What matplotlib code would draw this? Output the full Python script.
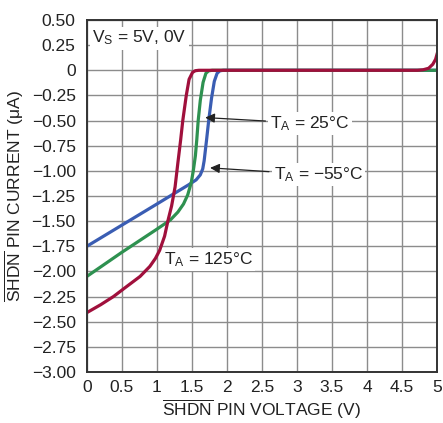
import matplotlib
matplotlib.use("Agg")
import matplotlib.pyplot as plt

plt.rcParams['font.family'] = ['Liberation Sans Narrow', 'Liberation Sans', 'DejaVu Sans']
plt.rcParams['mathtext.fontset'] = 'custom'
plt.rcParams['mathtext.rm'] = 'Liberation Sans'
plt.rcParams['mathtext.it'] = 'Liberation Sans'
plt.rcParams['axes.unicode_minus'] = True

# -55C curve (blue)
v_cold = [0, 0.5, 1.0, 1.26, 1.45, 1.56, 1.62, 1.655, 1.675, 1.69, 1.71, 1.74, 1.78, 1.82, 1.86, 1.9, 1.95, 5.0]
i_cold = [-1.75, -1.54, -1.33, -1.22, -1.14, -1.09, -1.04, -0.98, -0.9, -0.81, -0.69, -0.5, -0.28, -0.11, -0.03, -0.005, 0, 0]
# 25C curve (green)
v_room = [0, 0.5, 1.0, 1.19, 1.3, 1.38, 1.44, 1.49, 1.52, 1.55, 1.57, 1.59, 1.62, 1.66, 1.7, 1.74, 1.79, 5.0]
i_room = [-2.05, -1.81, -1.58, -1.49, -1.41, -1.33, -1.24, -1.12, -1.0, -0.85, -0.69, -0.5, -0.3, -0.12, -0.03, -0.005, 0, 0]
# 125C curve (red)
v_hot = [0, 0.2, 0.38, 0.55, 0.76, 0.9, 0.98, 1.04, 1.11, 1.16, 1.21, 1.26, 1.3, 1.34, 1.37, 1.42, 1.46, 1.51, 1.55, 1.6,
         4.72, 4.8, 4.88, 4.94, 4.98, 5.0]
i_hot = [-2.41, -2.33, -2.25, -2.16, -2.05, -1.95, -1.87, -1.79, -1.65, -1.49, -1.35, -1.16, -0.92, -0.69, -0.5, -0.25, -0.09, -0.02, -0.004, 0,
         0, 0.005, 0.02, 0.06, 0.11, 0.16]

xticks = [0, 0.5, 1, 1.5, 2, 2.5, 3, 3.5, 4, 4.5, 5]
xlabels = ['0', '0.5', '1', '1.5', '2', '2.5', '3', '3.5', '4', '4.5', '5']
yticks = [0.5, 0.25, 0, -0.25, -0.5, -0.75, -1.0, -1.25, -1.5, -1.75, -2.0, -2.25, -2.5, -2.75, -3.0]
ylabels = ['0.50', '0.25', '0', '−0.25', '−0.50', '−0.75', '−1.00', '−1.25',
           '−1.50', '−1.75', '−2.00', '−2.25', '−2.50', '−2.75', '−3.00']

fig = plt.figure(figsize=(4.43, 4.23), dpi=100)
ax = fig.add_axes([0.196, 0.1206, 0.7905, 0.8321])

ax.plot(v_cold, i_cold, color='#3a5db3', lw=2.3, solid_joinstyle='round')
ax.plot(v_room, i_room, color='#2e9150', lw=2.3, solid_joinstyle='round')
ax.plot(v_hot, i_hot, color='#a0103c', lw=2.3, solid_joinstyle='round')

ax.set_xlim(0, 5)
ax.set_ylim(-3.0, 0.5)
ax.set_xticks(xticks)
ax.set_xticklabels(xlabels)
ax.set_yticks(yticks)
ax.set_yticklabels(ylabels)
ax.tick_params(length=0, labelsize=12.5, colors='#222222')
ax.tick_params(axis='y', pad=8)
ax.tick_params(axis='x', pad=6)
ax.grid(True, color='#8c8c8c', lw=1.0)
ax.set_axisbelow(True)
for s in ax.spines.values():
    s.set_color('#333333')
    s.set_linewidth(1.4)

ax.set_xlabel(r'$\overline{\mathrm{SHDN}}$ PIN VOLTAGE (V)', fontsize=12.5, color='#222222', labelpad=2)
ax.set_ylabel(r'$\overline{\mathrm{SHDN}}$ PIN CURRENT ($\mu$A)', fontsize=12.5, color='#222222', labelpad=4)

box = dict(facecolor='white', edgecolor='none', pad=1.5)
ax.text(0.08, 0.32, r'V$_\mathrm{S}$ = 5V, 0V', fontsize=12.5, color='#222222', va='center', ha='left', bbox=box)
ax.text(1.1, -1.88, r'T$_\mathrm{A}$ = 125°C', fontsize=12.5, color='#222222', va='center', ha='left', bbox=box)
ax.annotate(r'T$_\mathrm{A}$ = 25°C', xy=(1.69, -0.47), xytext=(2.62, -0.53), fontsize=12.5, color='#222222',
            va='center', ha='left', bbox=box,
            arrowprops=dict(arrowstyle='-|>', color='#222222', lw=0.9, mutation_scale=14, shrinkA=2, shrinkB=0))
ax.annotate('T$_\\mathrm{A}$ = −55°C', xy=(1.76, -0.97), xytext=(2.67, -1.04), fontsize=12.5, color='#222222',
            va='center', ha='left', bbox=box,
            arrowprops=dict(arrowstyle='-|>', color='#222222', lw=0.9, mutation_scale=14, shrinkA=2, shrinkB=0))

fig.savefig('out.png', dpi=100)
